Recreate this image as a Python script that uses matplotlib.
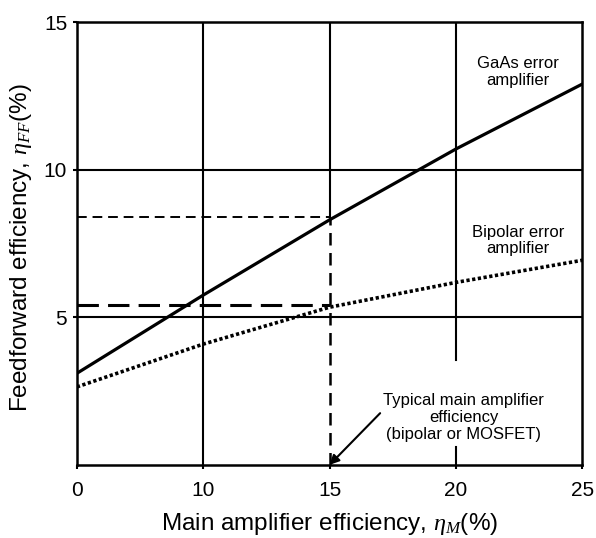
import numpy as np
import matplotlib
matplotlib.use('Agg')
import matplotlib.pyplot as plt

plt.rcParams['font.family'] = ['Liberation Sans', 'DejaVu Sans']
plt.rcParams['mathtext.fontset'] = 'custom'
plt.rcParams['mathtext.it'] = 'Liberation Serif:italic'

# main amplifier efficiency (%)
x_main = [0, 10, 15, 20, 25]
# feedforward efficiency (%)
gaas_ff = [3.1, 5.75, 8.3, 10.7, 12.9]
bipolar_ff = [2.64, 4.09, 5.34, 6.18, 6.93]

x_typical = 15
gaas_at_typ = 8.4
bip_at_typ = 5.4

xticks = [0, 10, 15, 20, 25]
yticks = [5, 10, 15]


# the 0-10 interval on the x axis is drawn as wide as one 5-unit step
def fwd(x):
    x = np.asarray(x, dtype=float)
    return np.where(x <= 10, x / 2, x - 5)


def inv(t):
    t = np.asarray(t, dtype=float)
    return np.where(t <= 5, t * 2, t + 5)


fig = plt.figure(figsize=(5.96, 5.38), dpi=100)
ax = fig.add_axes([0.129, 0.136, 0.848, 0.823])
ax.set_xscale('function', functions=(fwd, inv))
ax.set_xlim(0, 25)
ax.set_ylim(0, 15)

# grid
gkw = dict(color='black', lw=1.5, zorder=1)
ax.plot([10, 10], [0, 15], **gkw)
ax.plot([15, 15], [gaas_at_typ, 15], **gkw)
ax.plot([20, 20], [3.55, 15], **gkw)
ax.plot([20, 20], [0, 0.6], **gkw)
ax.plot([0, 25], [10, 10], **gkw)
ax.plot([0, 25], [5, 5], **gkw)

# curves
ax.plot(x_main, gaas_ff, color='black', lw=2.3, zorder=3)
ax.plot(x_main, bipolar_ff, color='black', lw=2.6,
        linestyle=(0, (0.9, 0.7)), zorder=3)

# reference dashed lines
ax.plot([0, x_typical], [gaas_at_typ, gaas_at_typ], color='black', lw=1.4,
        linestyle=(0, (5, 3)), zorder=2)
ax.plot([0, x_typical], [bip_at_typ, bip_at_typ], color='black', lw=2.2,
        linestyle=(0, (7, 3)), zorder=2)
ax.plot([x_typical, x_typical], [0, gaas_at_typ], color='black', lw=1.8,
        linestyle=(0, (5, 3)), zorder=2)

ax.text(22.45, 13.3, 'GaAs error\namplifier', ha='center', va='center',
        fontsize=12, linespacing=1.15)
ax.text(22.45, 7.6, 'Bipolar error\namplifier', ha='center', va='center',
        fontsize=12, linespacing=1.15)
ax.text(20.3, 1.6, 'Typical main amplifier\nefficiency\n(bipolar or MOSFET)',
        ha='center', va='center', fontsize=12, linespacing=1.15)
ax.annotate('', xy=(15, 0), xytext=(17.0, 1.75),
            arrowprops=dict(arrowstyle='-|>', color='black', lw=1.5,
                            mutation_scale=14, shrinkA=0, shrinkB=0))

ax.set_xticks(xticks)
ax.set_xticklabels([str(v) for v in xticks])
ax.set_yticks(yticks)
ax.set_yticklabels([str(v) for v in yticks])
ax.minorticks_off()
ax.tick_params(direction='out', length=3, width=1.5, labelsize=15)
ax.tick_params(axis='x', pad=9)
ax.tick_params(axis='y', pad=4)
for s in ax.spines.values():
    s.set_linewidth(1.8)

ax.set_xlabel(r'Main amplifier efficiency, $\mathit{\eta}_{\mathit{M}}$(%)',
              fontsize=17.5)
ax.set_ylabel(r'Feedforward efficiency, $\mathit{\eta}_{\mathit{FF}}$(%)',
              fontsize=17.5)
ax.xaxis.set_label_coords(0.5, -0.105)
ax.yaxis.set_label_coords(-0.085, 0.49)

fig.savefig('out.png', dpi=100)
